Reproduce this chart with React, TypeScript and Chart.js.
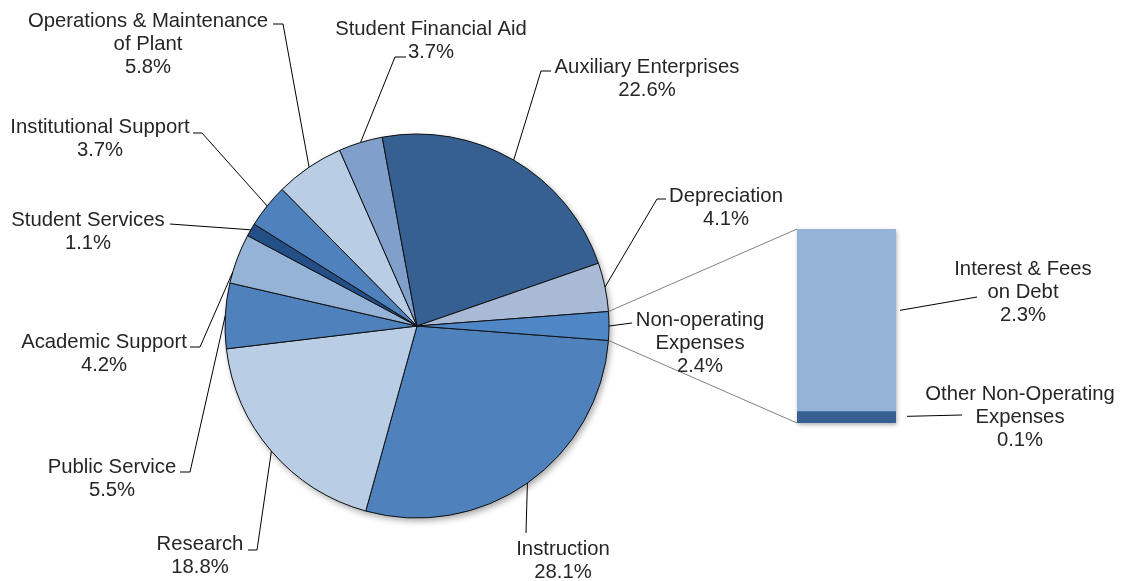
import React, { useEffect, useRef } from 'react';
import { Chart, registerables } from 'chart.js';

Chart.register(...registerables);

// ---------- data ----------
const categories = [
  'Instruction',
  'Research',
  'Public Service',
  'Academic Support',
  'Student Services',
  'Institutional Support',
  'Operations & Maintenance of Plant',
  'Student Financial Aid',
  'Auxiliary Enterprises',
  'Depreciation',
  'Non-operating Expenses',
];
const shares = [28.1, 18.8, 5.5, 4.2, 1.1, 3.7, 5.8, 3.7, 22.6, 4.1, 2.4];
const categoryLabelLines = [
  ['Instruction'],
  ['Research'],
  ['Public Service'],
  ['Academic Support'],
  ['Student Services'],
  ['Institutional Support'],
  ['Operations & Maintenance', 'of Plant'],
  ['Student Financial Aid'],
  ['Auxiliary Enterprises'],
  ['Depreciation'],
  ['Non-operating', 'Expenses'],
];
const sliceColors = [
  '#4F81BD',
  '#B9CDE5',
  '#4F81BD',
  '#95B3D7',
  '#234E86',
  '#4F81BD',
  '#B9CDE5',
  '#809FCB',
  '#366092',
  '#A9BAD6',
  '#4F86C6',
];

// breakdown of the last slice (drawn as the stacked bar, bottom first)
const detailCategories = ['Other Non-Operating Expenses', 'Interest & Fees on Debt'];
const detailShares = [0.14, 2.26];
const detailLabelLines = [
  ['Other Non-Operating', 'Expenses'],
  ['Interest & Fees', 'on Debt'],
];
const detailColors = ['#366092', '#95B3D7'];

// ---------- styling / layout ----------
const W = 1123;
const H = 581;
const FONT = '20.3px "Liberation Sans", Arial, Helvetica, sans-serif';
const TEXT_COLOR = '#262626';
const LINE_H = 23;

// label text anchor (centre x, first baseline y) and leader path (points from label side to slice)
const pieLabelLayout = [
  { cx: 563, y: 555, path: [[526, 533]] },
  { cx: 200, y: 550, path: [[248, 550], [257, 550]] },
  { cx: 112, y: 473, path: [[180, 472], [190, 472]] },
  { cx: 104, y: 348, path: [[190, 347], [200, 347]], frac: 0.22 },
  { cx: 88, y: 226, path: [[170, 224]] },
  { cx: 100, y: 133, path: [[193, 133], [202, 133]] },
  { cx: 148, y: 26.5, path: [[273, 24], [283, 24]] },
  { cx: 431, y: 35, path: [[406, 57], [395, 57]] },
  { cx: 647, y: 72.5, path: [[551, 71], [541, 71]] },
  { cx: 726, y: 201.5, path: [[666, 199], [657, 199]] },
  { cx: 700, y: 326, path: [[632, 323]] },
];
const barLabelLayout = [
  { cx: 1020, y: 400, gap: 11, dy: -1, end: [962, 415] },
  { cx: 1023, y: 275, gap: 4, dy: -10, end: [977, 297] },
];

function drawLines(ctx: CanvasRenderingContext2D, lines: string[], cx: number, y: number) {
  ctx.save();
  ctx.font = FONT;
  ctx.fillStyle = TEXT_COLOR;
  ctx.textAlign = 'center';
  ctx.textBaseline = 'alphabetic';
  lines.forEach((t, k) => ctx.fillText(t, cx, y + k * LINE_H));
  ctx.restore();
}

export default function App() {
  const pieRef = useRef<HTMLCanvasElement | null>(null);
  const barRef = useRef<HTMLCanvasElement | null>(null);

  useEffect(() => {
    if (!pieRef.current || !barRef.current) return;

    const pieShadow = {
      id: 'pieShadow',
      beforeDatasetsDraw(chart: any) {
        const arc = chart.getDatasetMeta(0).data[0];
        if (!arc) return;
        const ctx = chart.ctx;
        ctx.save();
        ctx.shadowColor = 'rgba(0,0,0,0.35)';
        ctx.shadowBlur = 6;
        ctx.shadowOffsetX = 2;
        ctx.shadowOffsetY = 3;
        ctx.fillStyle = '#4F81BD';
        ctx.beginPath();
        ctx.arc(arc.x, arc.y, arc.outerRadius, 0, Math.PI * 2);
        ctx.fill();
        ctx.restore();
      },
    };

    const pieLabels = {
      id: 'pieLabels',
      afterDraw(chart: any) {
        const ctx = chart.ctx as CanvasRenderingContext2D;
        const arcs = chart.getDatasetMeta(0).data;
        arcs.forEach((arc: any, i: number) => {
          const lay = pieLabelLayout[i];
          const f = lay.frac ?? 0.5;
          const a = arc.startAngle + (arc.endAngle - arc.startAngle) * f;
          const px = arc.x + arc.outerRadius * Math.cos(a);
          const py = arc.y + arc.outerRadius * Math.sin(a);
          ctx.save();
          ctx.strokeStyle = '#000';
          ctx.lineWidth = 1;
          ctx.beginPath();
          ctx.moveTo(px, py);
          for (let k = lay.path.length - 1; k >= 0; k--) ctx.lineTo(lay.path[k][0], lay.path[k][1]);
          ctx.stroke();
          ctx.restore();
          drawLines(ctx, [...categoryLabelLines[i], shares[i].toFixed(1) + '%'], lay.cx, lay.y);
        });
      },
    };

    const pie = new Chart(pieRef.current, {
      type: 'pie',
      data: {
        labels: categories,
        datasets: [
          {
            data: shares,
            backgroundColor: sliceColors,
            borderColor: '#111',
            borderWidth: 1,
          },
        ],
      },
      options: {
        responsive: false,
        animation: false,
        rotation: 90 + (shares[shares.length - 1] / 2) * 3.6,
        radius: 192,
        layout: { padding: { left: 0, right: W - 834, top: 71, bottom: 0 } },
        plugins: { legend: { display: false }, tooltip: { enabled: false } },
      },
      plugins: [pieShadow, pieLabels],
    } as any);

    const detailTotal = detailShares.reduce((s, v) => s + v, 0);

    const barShadow = {
      id: 'barShadow',
      beforeDatasetsDraw(chart: any) {
        const { left, right, top, bottom } = chart.chartArea;
        const ctx = chart.ctx;
        ctx.save();
        ctx.shadowColor = 'rgba(0,0,0,0.3)';
        ctx.shadowBlur = 4;
        ctx.shadowOffsetX = 1;
        ctx.shadowOffsetY = 2;
        ctx.fillStyle = '#95B3D7';
        ctx.fillRect(left, top, right - left, bottom - top);
        ctx.restore();
      },
    };

    const barLabels = {
      id: 'barLabels',
      afterDraw(chart: any) {
        const ctx = chart.ctx as CanvasRenderingContext2D;
        // connectors from the split slice to the bar
        const arcs = pie.getDatasetMeta(0).data as any[];
        const split = arcs[arcs.length - 1];
        const topBar = chart.getDatasetMeta(detailShares.length - 1).data[0] as any;
        const botBar = chart.getDatasetMeta(0).data[0] as any;
        const barLeft = topBar.x - topBar.width / 2;
        ctx.save();
        ctx.strokeStyle = '#555';
        ctx.lineWidth = 0.75;
        ctx.beginPath();
        ctx.moveTo(split.x + split.outerRadius * Math.cos(split.startAngle), split.y + split.outerRadius * Math.sin(split.startAngle));
        ctx.lineTo(barLeft, topBar.y);
        ctx.moveTo(split.x + split.outerRadius * Math.cos(split.endAngle), split.y + split.outerRadius * Math.sin(split.endAngle));
        ctx.lineTo(barLeft, botBar.base);
        ctx.stroke();
        ctx.restore();

        detailShares.forEach((v, i) => {
          const el = chart.getDatasetMeta(i).data[0] as any;
          const lay = barLabelLayout[i];
          const sx = el.x + el.width / 2 + lay.gap;
          const sy = (el.y + el.base) / 2 + lay.dy;
          ctx.save();
          ctx.strokeStyle = '#000';
          ctx.lineWidth = 1;
          ctx.beginPath();
          ctx.moveTo(sx, sy);
          ctx.lineTo(lay.end[0], lay.end[1]);
          ctx.stroke();
          ctx.restore();
          drawLines(ctx, [...detailLabelLines[i], v.toFixed(1) + '%'], lay.cx, lay.y);
        });
      },
    };

    const bar = new Chart(barRef.current, {
      type: 'bar',
      data: {
        labels: [''],
        datasets: detailCategories.map((c, i) => ({
          label: c,
          data: [detailShares[i]],
          backgroundColor: detailColors[i],
          borderWidth: 0,
          barPercentage: 1,
          categoryPercentage: 1,
        })),
      },
      options: {
        responsive: false,
        animation: false,
        layout: { padding: { left: 797, right: W - 896, top: 229, bottom: H - 423 } },
        scales: {
          x: { display: false, stacked: true },
          y: { display: false, stacked: true, min: 0, max: detailTotal },
        },
        plugins: { legend: { display: false }, tooltip: { enabled: false } },
      },
      plugins: [barShadow, barLabels],
    } as any);

    return () => {
      bar.destroy();
      pie.destroy();
    };
  }, []);

  return (
    <div style={{ position: 'fixed', left: 0, top: 0, width: W, height: H, background: '#fff' }}>
      <canvas ref={pieRef} width={W} height={H} style={{ position: 'absolute', left: 0, top: 0 }} />
      <canvas
        ref={barRef}
        width={W}
        height={H}
        style={{ position: 'absolute', left: 0, top: 0, pointerEvents: 'none' }}
      />
    </div>
  );
}
